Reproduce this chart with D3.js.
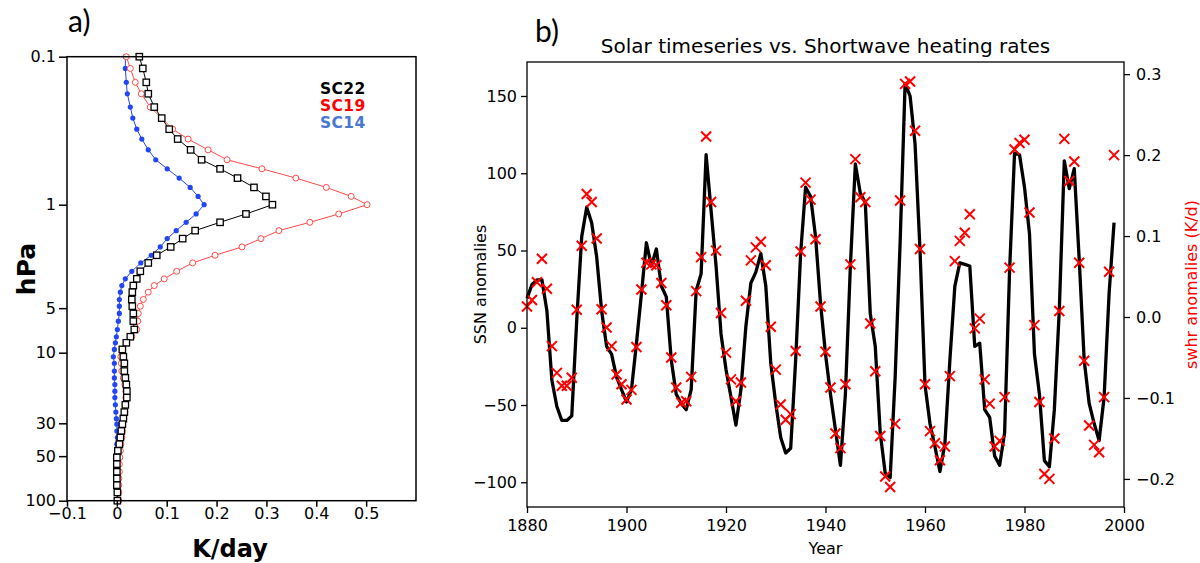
<!DOCTYPE html>
<html>
<head>
<meta charset="utf-8">
<script src="https://cdn.jsdelivr.net/npm/d3@7"></script>
<style>
body { margin: 0; background: #fff; }
svg { display: block; }
</style>
</head>
<body>
<div id="chart"></div>
<script>
// ---- panel a: heating rate profiles (K/day) on pressure levels (hPa)
var levels = [0.1, 0.12, 0.149, 0.178, 0.219, 0.26, 0.309, 0.36, 0.426, 0.497, 0.572, 0.661, 0.764, 0.879,
	1.0, 1.155, 1.315, 1.497, 1.695, 1.929, 2.196, 2.474, 2.818, 3.17, 3.52, 3.9, 4.37, 4.85, 5.43, 6.12,
	6.97, 7.8, 8.57, 9.5, 10.65, 11.8, 13.3, 14.8, 16.4, 18.2, 20.1, 22.5, 25.2, 27.9, 30.4, 33.8, 37.4,
	41.5, 46.0, 51.0, 56.6, 63.8, 70.8, 78.5, 87.9, 100];
var sc22 = [0.045, 0.052, 0.059, 0.063, 0.075, 0.09, 0.105, 0.122, 0.148, 0.17, 0.207, 0.242, 0.275, 0.299,
	0.312, 0.259, 0.207, 0.157, 0.132, 0.108, 0.08, 0.063, 0.047, 0.04, 0.033, 0.031, 0.03, 0.031, 0.033, 0.033,
	0.035, 0.027, 0.019, 0.011, 0.013, 0.015, 0.015, 0.017, 0.019, 0.02, 0.02, 0.017, 0.015, 0.013, 0.011, 0.009, 0.007,
	0.005, 0.002, 0.0, 0.0, 0.0, 0.0, 0.0, 0.001, 0.001];
var sc19 = [0.019, 0.027, 0.037, 0.049, 0.067, 0.09, 0.112, 0.143, 0.183, 0.221, 0.291, 0.359, 0.42, 0.47,
	0.502, 0.445, 0.387, 0.325, 0.289, 0.251, 0.197, 0.152, 0.12, 0.095, 0.075, 0.063, 0.053, 0.047, 0.043, 0.042,
	0.04, 0.03, 0.02, 0.011, 0.008, 0.009, 0.01, 0.013, 0.016, 0.018, 0.018, 0.017, 0.016, 0.014, 0.012, 0.011, 0.01,
	0.008, 0.007, 0.006, 0.005, 0.005, 0.004, 0.004, 0.004, 0.004];
var sc14 = [0.017, 0.017, 0.019, 0.021, 0.027, 0.032, 0.04, 0.05, 0.063, 0.078, 0.101, 0.125, 0.147, 0.163,
	0.175, 0.159, 0.139, 0.119, 0.101, 0.087, 0.069, 0.048, 0.03, 0.017, 0.01, 0.007, 0.005, 0.005, 0.005, 0.003,
	0.001, -0.001, -0.003, -0.005, -0.007, -0.005, -0.005, -0.005, -0.004, -0.004, -0.004, -0.003, -0.002, -0.001, 0, 0, 0.001,
	0, 0, 0, 0, 0, 0, 0, 0, 0];
var pTicks = [0.1, 1, 5, 10, 30, 50, 100];
var kTicks = [-0.1, 0, 0.1, 0.2, 0.3, 0.4, 0.5];

// ---- panel b: sunspot number anomalies and shortwave heating rate anomalies per year
var years = d3.range(1880, 1999);
var ssn = [19, 28, 31, 31, 11, -34, -51, -60, -60, -57,
	5, 59, 78, 68, 46, 11, -12, -17, -32, -40,
	-48, -40, -10, 22, 55, 40, 51, 27, 20, -21,
	-43, -49, -53, -40, 24, 35, 112, 76, 40, -4,
	-27, -45, -63, -40, 1, 29, 36, 48, 27, -23,
	-49, -71, -81, -78, -21, 48, 91, 85, 59, 16,
	-17, -43, -66, -89, -43, 40, 106, 87, 81, 9,
	-12, -68, -94, -97, -32, 55, 158, 150, 119, 50,
	-37, -62, -77, -93, -75, -21, 27, 42, 41, 40,
	-12, -10, -53, -58, -83, -89, -68, 37, 113, 112,
	91, 61, -17, -43, -86, -90, -53, 12, 108, 90,
	103, 44, -21, -49, -62, -73, -45, 22, 68];
var swhr = [0.013, 0.021, 0.043, 0.072, 0.035, -0.036, -0.069, -0.085, -0.085, -0.075,
	0.009, 0.088, 0.152, 0.142, 0.097, 0.0095, -0.013, -0.036, -0.071, -0.083,
	-0.102, -0.09, -0.037, 0.034, 0.067, 0.065, 0.064, 0.042, 0.0145, -0.05,
	-0.087, -0.106, -0.104, -0.074, 0.032, 0.074, 0.223, 0.142, 0.082, 0.005,
	-0.044, -0.077, -0.104, -0.081, 0.02, 0.07, 0.086, 0.093, 0.064, -0.012,
	-0.065, -0.108, -0.127, -0.12, -0.042, 0.081, 0.166, 0.145, 0.096, 0.013,
	-0.043, -0.087, -0.144, -0.162, -0.083, 0.065, 0.195, 0.148, 0.142, -0.008,
	-0.067, -0.147, -0.197, -0.21, -0.132, 0.144, 0.288, 0.291, 0.23, 0.084,
	-0.083, -0.141, -0.156, -0.177, -0.16, -0.073, 0.069, 0.094, 0.104, 0.127,
	-0.014, -0.002, -0.077, -0.107, -0.16, -0.153, -0.099, 0.061, 0.207, 0.215,
	0.219, 0.129, -0.01, -0.105, -0.194, -0.2, -0.15, 0.0075, 0.22, 0.168,
	0.192, 0.067, -0.054, -0.134, -0.158, -0.167, -0.099, 0.056, 0.2];
var yearTicks = [1880, 1900, 1920, 1940, 1960, 1980, 2000];
var ssnTicks = [-100, -50, 0, 50, 100, 150];
var swhrTicks = [-0.2, -0.1, 0.0, 0.1, 0.2, 0.3];

var svg = d3.select('#chart').append('svg')
	.attr('width', 1200)
	.attr('height', 563)
	.style('background', '#fff');

//////// panel a
var xA = d3.scaleLinear().domain([-0.1, 0.6]).range([67, 416]);
var yA = d3.scaleLog().domain([0.1, 100]).range([56.7, 500.7]);
var fontA = '"DejaVu Sans", sans-serif';

var gA = svg.append('g');

// profiles: blue under red under black
var series = [
	{ vals: sc14, color: '#2246f2', mark: 'dot' },
	{ vals: sc19, color: '#ff4a4a', mark: 'circle' },
	{ vals: sc22, color: '#000000', mark: 'square' }
];
series.forEach(function(s) {
	var pts = levels.map(function(p, i) { return [s.vals[i], p]; });
	gA.append('path').datum(pts)
		.attr('fill', 'none')
		.attr('stroke', s.color)
		.attr('stroke-width', 1)
		.attr('d', d3.line().x(function(d) { return xA(d[0]); }).y(function(d) { return yA(d[1]); }));
	var m = gA.append('g').selectAll('.m').data(pts).enter();
	if (s.mark == 'dot') {
		m.append('circle')
			.attr('cx', function(d) { return xA(d[0]); })
			.attr('cy', function(d) { return yA(d[1]); })
			.attr('r', 2.6)
			.attr('fill', s.color);
	} else if (s.mark == 'circle') {
		m.append('circle')
			.attr('cx', function(d) { return xA(d[0]); })
			.attr('cy', function(d) { return yA(d[1]); })
			.attr('r', 3)
			.attr('fill', '#fff')
			.attr('stroke', s.color)
			.attr('stroke-width', 1);
	} else {
		m.append('rect')
			.attr('x', function(d) { return xA(d[0]) - 3.2; })
			.attr('y', function(d) { return yA(d[1]) - 3.2; })
			.attr('width', 6.4)
			.attr('height', 6.4)
			.attr('fill', '#fff')
			.attr('stroke', s.color)
			.attr('stroke-width', 1.3);
	}
});

// frame
gA.append('rect')
	.attr('x', 67).attr('y', 56.7)
	.attr('width', 416 - 67).attr('height', 500.7 - 56.7)
	.attr('fill', 'none').attr('stroke', '#000').attr('stroke-width', 1.5);

var axA_left = gA.append('g').attr('transform', 'translate(67,0)')
	.call(d3.axisLeft(yA).tickValues(pTicks).tickFormat(function(d) { return String(d); }).tickSize(8).tickPadding(3).tickSizeOuter(0));
var axA_bottom = gA.append('g').attr('transform', 'translate(0,500.7)')
	.call(d3.axisBottom(xA).tickValues(kTicks)
		.tickFormat(function(d) { return d === 0 ? '0' : d3.format('.1f')(d); })
		.tickSize(6).tickPadding(1).tickSizeOuter(0));
[axA_left, axA_bottom].forEach(function(a) {
	a.select('.domain').remove();
	a.selectAll('line').attr('stroke', '#000').attr('stroke-width', 1.5);
	a.selectAll('text').attr('fill', '#000').style('font-family', fontA).style('font-size', '16px');
});

// axis titles
gA.append('text')
	.attr('transform', 'translate(35,269) rotate(-90)')
	.attr('text-anchor', 'middle')
	.style('font-family', fontA).style('font-size', '25px').style('font-weight', 'bold')
	.text('hPa');
gA.append('text')
	.attr('x', 230).attr('y', 557)
	.attr('text-anchor', 'middle')
	.style('font-family', fontA).style('font-size', '24px').style('font-weight', 'bold')
	.text('K/day');

// legend
var legA = [
	{ name: 'SC22', color: '#000000' },
	{ name: 'SC19', color: '#ff0000' },
	{ name: 'SC14', color: '#4a78d0' }
];
gA.selectAll('.leg').data(legA).enter().append('text')
	.attr('x', 320)
	.attr('y', function(d, i) { return 94 + i * 17; })
	.attr('fill', function(d) { return d.color; })
	.style('font-family', fontA).style('font-size', '15.5px').style('font-weight', 'bold')
	.style('letter-spacing', '0.4px')
	.text(function(d) { return d.name; });

// panel letter
svg.append('text').attr('x', 68).attr('y', 32)
	.style('font-family', 'Lato, sans-serif').style('font-size', '30px')
	.text('a)');

//////// panel b
var xB = d3.scaleLinear().domain([1880, 2000]).range([527, 1124]);
var yB = d3.scaleLinear().domain([-116, 172]).range([507, 62]);
var yR = d3.scaleLinear().domain([-0.2347, 0.315]).range([507, 62]);
var fontB = '"DejaVu Sans", sans-serif';

var gB = svg.append('g');

// SSN line
gB.append('path').datum(years)
	.attr('fill', 'none')
	.attr('stroke', '#000')
	.attr('stroke-width', 3.3)
	.attr('stroke-linejoin', 'round')
	.attr('d', d3.line()
		.x(function(d) { return xB(d); })
		.y(function(d, i) { return yB(ssn[i]); }));

// swhr crosses
var xs = 5;
gB.append('g').selectAll('path').data(years).enter().append('path')
	.attr('transform', function(d, i) { return 'translate(' + xB(d) + ',' + yR(swhr[i]) + ')'; })
	.attr('d', 'M' + (-xs) + ',' + (-xs) + 'L' + xs + ',' + xs + 'M' + (-xs) + ',' + xs + 'L' + xs + ',' + (-xs))
	.attr('stroke', '#ff0000')
	.attr('stroke-width', 2)
	.attr('fill', 'none');

// frame
gB.append('rect')
	.attr('x', 527).attr('y', 62)
	.attr('width', 1124 - 527).attr('height', 507 - 62)
	.attr('fill', 'none').attr('stroke', '#000').attr('stroke-width', 1.3);

var axB_left = gB.append('g').attr('transform', 'translate(527,0)')
	.call(d3.axisLeft(yB).tickValues(ssnTicks).tickFormat(d3.format('d')).tickSize(6).tickPadding(4).tickSizeOuter(0));
var axB_right = gB.append('g').attr('transform', 'translate(1124,0)')
	.call(d3.axisRight(yR).tickValues(swhrTicks).tickFormat(d3.format('.1f')).tickSize(6).tickPadding(6).tickSizeOuter(0));
var axB_bottom = gB.append('g').attr('transform', 'translate(0,507)')
	.call(d3.axisBottom(xB).tickValues(yearTicks).tickFormat(d3.format('d')).tickSize(6).tickPadding(7).tickSizeOuter(0));
[axB_left, axB_right, axB_bottom].forEach(function(a) {
	a.select('.domain').remove();
	a.selectAll('line').attr('stroke', '#000').attr('stroke-width', 1.3);
	a.selectAll('text').attr('fill', '#000').style('font-family', fontB).style('font-size', '16px');
});

// titles and labels
gB.append('text')
	.attr('x', (527 + 1124) / 2).attr('y', 53)
	.attr('text-anchor', 'middle')
	.style('font-family', fontB).style('font-size', '20px')
	.text('Solar timeseries vs. Shortwave heating rates');
gB.append('text')
	.attr('x', (527 + 1124) / 2).attr('y', 554)
	.attr('text-anchor', 'middle')
	.style('font-family', fontB).style('font-size', '16px')
	.text('Year');
gB.append('text')
	.attr('transform', 'translate(486,284.5) rotate(-90)')
	.attr('text-anchor', 'middle')
	.style('font-family', fontB).style('font-size', '16px')
	.text('SSN anomalies');
gB.append('text')
	.attr('transform', 'translate(1197,284.5) rotate(-90)')
	.attr('text-anchor', 'middle')
	.attr('fill', '#ff0000')
	.style('font-family', fontB).style('font-size', '16px')
	.text('swhr anomalies (K/d)');

svg.append('text').attr('x', 535).attr('y', 42)
	.style('font-family', 'Lato, sans-serif').style('font-size', '30px')
	.text('b)');
</script>
</body>
</html>
